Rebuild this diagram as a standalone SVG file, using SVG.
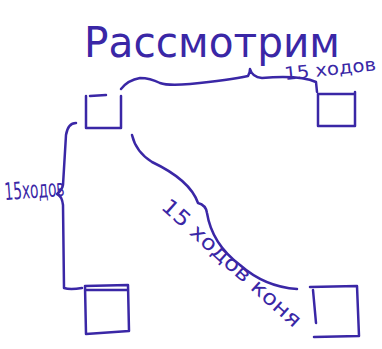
<svg xmlns="http://www.w3.org/2000/svg" width="382" height="349" viewBox="0 0 382 349">
<style>
.ink{fill:none;stroke:#3a27a6;stroke-width:2.5;stroke-linecap:round;stroke-linejoin:round}
.t{fill:#3a27a6;font-family:"DejaVu Sans",sans-serif}
</style>
<rect width="382" height="349" fill="#ffffff"/>
<text class="t" x="84" y="57" font-size="42" textLength="256" lengthAdjust="spacingAndGlyphs">Рассмотрим</text>
<g id="n1"><path class="ink" d="M86,96 L86,128 L121,128 L121,96 M90,96 L106,95"/></g>
<g id="n2"><path class="ink" d="M318,94 L318,126 L355,126 L355,92 M318,94 L355,94"/></g>
<g id="n3"><path class="ink" d="M85,286 L86,334 L129,331 L128,285 Z M86,290 L128,290"/></g>
<g id="n4"><path class="ink" d="M310,287 L357,286 L359,336 L314,337 M313,290 L316,323"/></g>
<g id="connectors">
<path class="ink" d="M121,89 Q128,80 140,78 Q150,78 160,83 Q168,86 190,84 Q230,80 248,76 Q250,73 250,69 Q252,77 262,78 Q300,75 316,82 L317,92"/>
<path class="ink" d="M76,123 Q68,123 66,135 L63,185 Q62,190 57,194 Q62,196 63,205 L64,288 Q70,290 82,288"/>
<path class="ink" d="M132,135 Q136,152 152,162 Q190,180 198,203 Q206,205 207,213 Q212,244 240,265 Q265,287 297,289"/>
</g>
<text class="t" x="285" y="80" font-size="18" textLength="92" lengthAdjust="spacingAndGlyphs" transform="rotate(-6 285 80)">15 ходов</text>
<text class="t" x="5" y="200" font-size="24" textLength="60" lengthAdjust="spacingAndGlyphs" transform="rotate(-4 5 200)">15ходов</text>
<text class="t" x="160" y="208" font-size="21" textLength="180" lengthAdjust="spacingAndGlyphs" transform="rotate(42 160 208)">15 ходов коня</text>
</svg>
